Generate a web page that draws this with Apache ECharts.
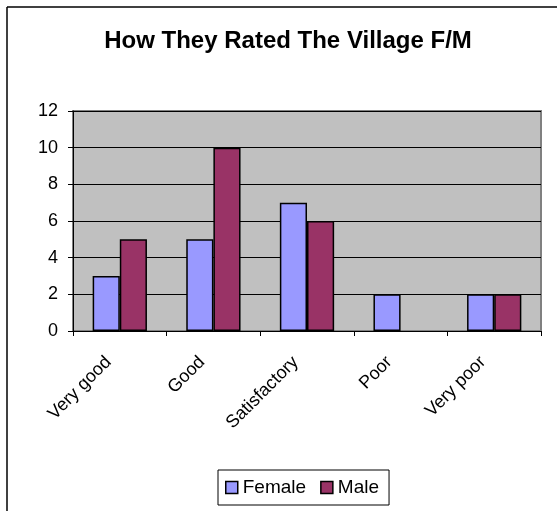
<!DOCTYPE html>
<html><head><meta charset="utf-8">
<script src="https://cdn.jsdelivr.net/npm/echarts@6/dist/echarts.min.js"></script>
<style>html,body{margin:0;padding:0;background:#fff}#c{width:557px;height:511px}</style>
</head><body><div id="c"></div>
<script>
var categories = ["Very good", "Good", "Satisfactory", "Poor", "Very poor"];
var female = [3, 5, 7, 2, 2];
var male = [5, 10, 6, 0, 2];
var yTicks = [0, 2, 4, 6, 8, 10, 12];

function toBars(arr) {
  return arr.map(function (v) { return v === 0 ? {value: 0, itemStyle: {borderWidth: 0}} : v; });
}

var chart = echarts.init(document.getElementById('c'), null, {renderer: 'canvas'});
var FONT = '"Liberation Sans", Arial, sans-serif';
chart.setOption({
  animation: false,
  backgroundColor: '#fff',
  title: {
    text: 'How They Rated The Village F/M',
    left: 283, top: 24, textAlign: 'center',
    textStyle: {fontFamily: FONT, fontSize: 24, fontWeight: 'bold', color: '#000'}
  },
  legend: {
    left: 218, top: 470, itemWidth: 12, itemHeight: 12, itemGap: 14,
    padding: [8, 10, 8, 7],
    borderColor: '#000', borderWidth: 1,
    icon: 'rect',
    itemStyle: {borderColor: '#000', borderWidth: 1.5},
    textStyle: {fontFamily: FONT, fontSize: 19, color: '#000'},
    data: ['Female', 'Male']
  },
  grid: {left: 73, top: 111, width: 468, height: 220, show: true, backgroundColor: '#C0C0C0', borderColor: '#808080', borderWidth: 2},
  xAxis: {
    type: 'category', data: categories,
    axisLine: {lineStyle: {color: '#000', width: 1}},
    axisTick: {show: true, length: 5, lineStyle: {color: '#000'}},
    axisLabel: {rotate: 45, fontFamily: FONT, fontSize: 18, color: '#000', margin: 17, padding: [0, 16, 0, 0]}
  },
  yAxis: {
    type: 'value', min: 0, max: 12, interval: 2,
    axisLine: {show: true, lineStyle: {color: '#000', width: 1}},
    axisTick: {show: true, length: 5, lineStyle: {color: '#000'}},
    splitLine: {lineStyle: {color: '#000', width: 1}},
    axisLabel: {fontFamily: FONT, fontSize: 18, color: '#000', margin: 15,
      formatter: function (v) { return yTicks.indexOf(v) >= 0 ? String(v) : ''; }}
  },
  series: [
    {name: 'Female', type: 'bar', data: toBars(female), barGap: '0%', barCategoryGap: '42%',
     itemStyle: {color: '#9999FF', borderColor: '#000', borderWidth: 1.5}},
    {name: 'Male', type: 'bar', data: toBars(male),
     itemStyle: {color: '#993366', borderColor: '#000', borderWidth: 1.5}}
  ],
  graphic: [
    {type: 'line', shape: {x1: 7, y1: 7, x2: 557, y2: 7}, style: {stroke: '#000', lineWidth: 1.5}},
    {type: 'line', shape: {x1: 7, y1: 7, x2: 7, y2: 511}, style: {stroke: '#000', lineWidth: 1.5}}
  ]
});
</script></body></html>
